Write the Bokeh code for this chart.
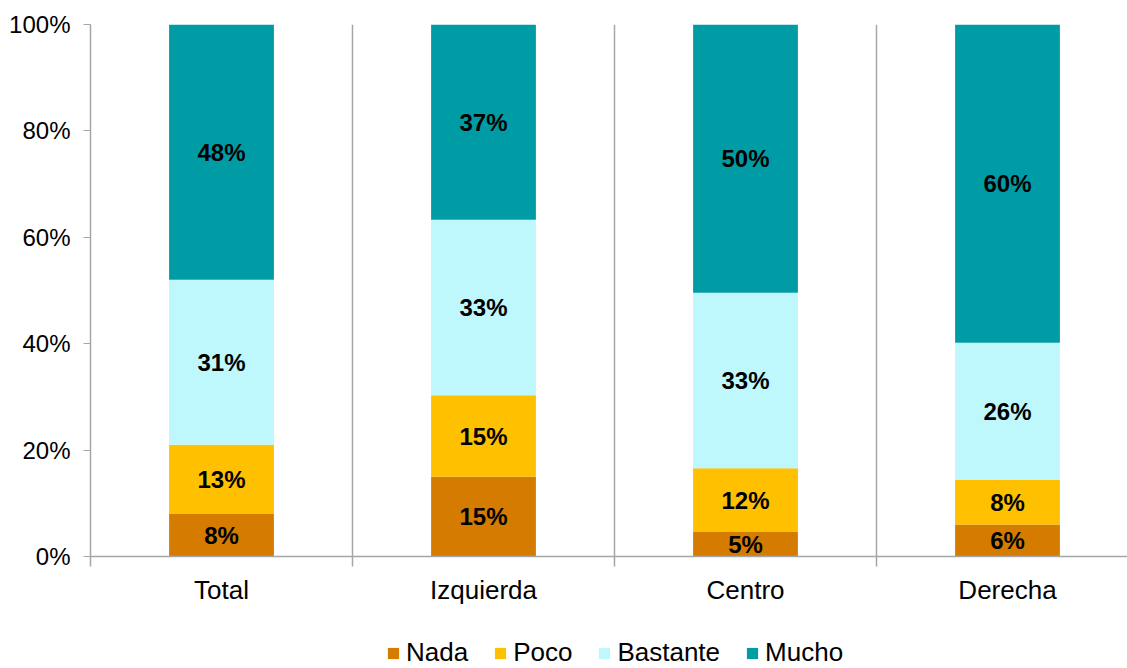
from bokeh.plotting import figure
from bokeh.layouts import column
from bokeh.models import (ColumnDataSource, Range1d, FixedTicker, PrintfTickFormatter,
                          Legend, LegendItem)
from bokeh.core.properties import value
from bokeh.embed import file_html
from bokeh.resources import INLINE

categories = ["Total", "Izquierda", "Centro", "Derecha"]
nada = [8.0, 15.0, 4.6, 6.0]
poco = [13.0, 15.3, 12.0, 8.4]
bastante = [31.0, 33.0, 33.0, 25.8]
mucho = [48.0, 36.7, 50.4, 59.8]

series_names = ["Nada", "Poco", "Bastante", "Mucho"]
colors = ["#D47B00", "#FFC000", "#BEF8FC", "#009CA6"]

xs = list(range(len(categories)))
data = dict(x=xs, Nada=nada, Poco=poco, Bastante=bastante, Mucho=mucho)
src = ColumnDataSource(data)

FONT = "Liberation Sans"

p = figure(frame_width=1037, frame_height=532, output_backend="svg", toolbar_location=None,
           x_range=Range1d(-0.5, 3.458), y_range=Range1d(0, 100),
           min_border_left=90, min_border_right=0, min_border_top=24,
           min_border_bottom=56)
p.outline_line_color = None
p.background_fill_color = "white"
p.border_fill_color = "white"

renderers = p.vbar_stack(series_names, x="x", width=0.4, source=src,
                         color=colors, line_color=None)

# labels
lx, ly, lt = [], [], []
for i in xs:
    base = 0.0
    for arr in (nada, poco, bastante, mucho):
        v = arr[i]
        lx.append(i)
        ly.append(base + v / 2.0)
        lt.append(f"{int(v + 0.5):d}%")
        base += v
p.text(x=lx, y=ly, text=lt, text_align="center", text_baseline="middle",
       text_font=value(FONT), text_font_style="bold", text_font_size="24px",
       text_color="black")

# axes
gray = "#A6A6A6"
p.yaxis.ticker = FixedTicker(ticks=[0, 20, 40, 60, 80, 100])
p.yaxis.formatter = PrintfTickFormatter(format="%d%%")
p.yaxis.axis_line_color = gray
p.yaxis.axis_line_width = 1.5
p.yaxis.major_tick_line_color = gray
p.yaxis.major_tick_out = 7
p.yaxis.major_tick_in = 0
p.yaxis.minor_tick_line_color = None
p.yaxis.major_label_text_font = FONT
p.yaxis.major_label_text_font_size = "24px"
p.yaxis.major_label_text_color = "black"
p.yaxis.major_label_standoff = 13

p.xaxis.ticker = FixedTicker(ticks=xs, minor_ticks=[-0.5, 0.5, 1.5, 2.5])
p.xaxis.major_label_overrides = {i: c for i, c in zip(xs, categories)}
p.xaxis.axis_line_color = gray
p.xaxis.axis_line_width = 1.5
p.xaxis.major_tick_line_color = None
p.xaxis.minor_tick_line_color = gray
p.xaxis.minor_tick_line_width = 1.5
p.xaxis.minor_tick_out = 10
p.xaxis.minor_tick_in = 0
p.xaxis.major_label_text_font = FONT
p.xaxis.major_label_text_font_size = "26px"
p.xaxis.major_label_text_color = "black"
p.xaxis.major_label_standoff = 8

p.ygrid.grid_line_color = None
p.xgrid.ticker = FixedTicker(ticks=[0.5, 1.5, 2.5])
p.xgrid.grid_line_color = gray
p.xgrid.grid_line_width = 1.5

# legend strip below the chart (its renderers sit outside the visible range)
p2 = figure(width=1127, height=56, output_backend="svg", toolbar_location=None,
            x_range=Range1d(0, 1), y_range=Range1d(0, 1),
            x_axis_type=None, y_axis_type=None,
            min_border_left=0, min_border_right=0, min_border_top=0, min_border_bottom=0)
p2.outline_line_color = None
p2.xgrid.visible = False
p2.ygrid.visible = False
dummy = [p2.vbar(x=[5], top=[1], width=0.1, color=c, line_color=None) for c in colors]
items = [LegendItem(label=n, renderers=[r]) for n, r in zip(series_names, dummy)]
legend = Legend(items=items, orientation="horizontal", location=(296, 0),
                border_line_color=None, background_fill_alpha=0,
                label_text_font=FONT, label_text_font_size="26px",
                label_text_color="black",
                glyph_width=14, glyph_height=14, label_standoff=6, spacing=25,
                padding=0, margin=0)
p2.add_layout(legend, "center")

layout = column(p, p2, spacing=0)
open("out.html", "w").write(file_html(layout, INLINE))
